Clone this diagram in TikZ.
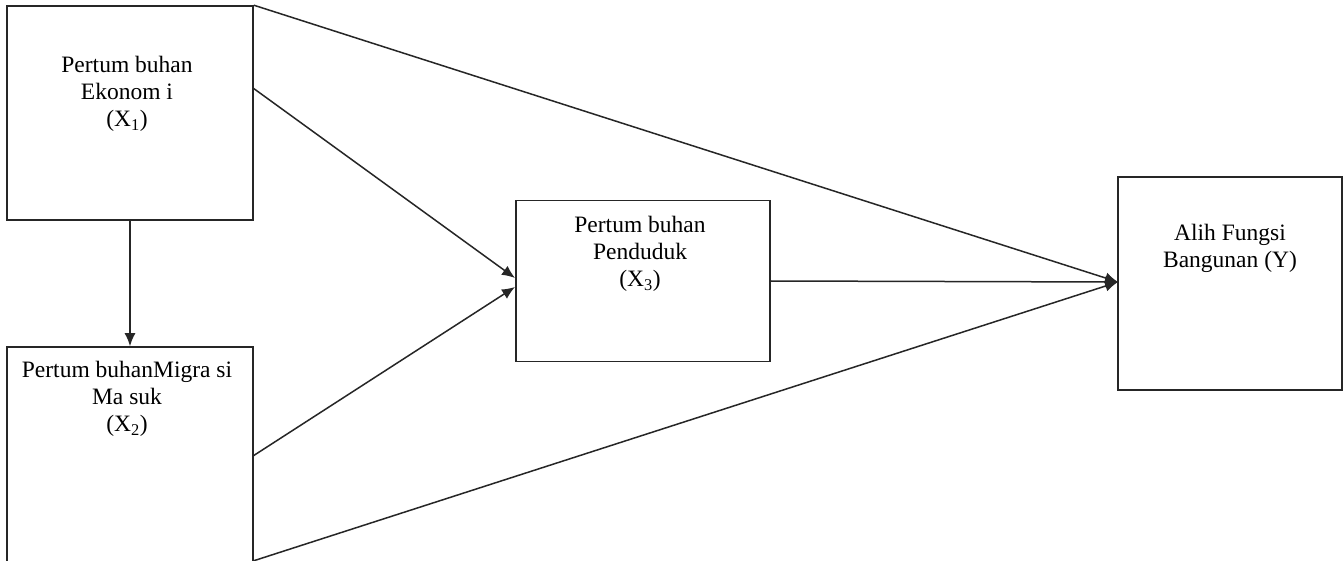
\documentclass[tikz,border=0pt]{standalone}
\usepackage{fontspec}
\setmainfont{Liberation Serif}
\usetikzlibrary{arrows.meta}
\begin{document}
\begin{tikzpicture}[x=1pt,y=-1pt,
  boxstyle/.style={draw=black!85,line width=1.6pt,rectangle,inner sep=0pt},
  lbl/.style={align=center,inner sep=0pt,anchor=north,font=\fontsize{23.5}{27}\selectfont},
  conn/.style={draw=black!85,line width=1.5pt},
  arr/.style={conn,-{Latex[length=13pt,width=11pt]}}]
\useasboundingbox[fill=white] (0,0) rectangle (1344,561);
% boxes
\node[boxstyle,minimum width=246pt,minimum height=214pt] (b1) at (130,113) {};
\node[boxstyle,minimum width=246pt,minimum height=222pt] (b2) at (130,458) {};
\node[boxstyle,minimum width=254pt,minimum height=161pt] (b3) at (643,281) {};
\node[boxstyle,minimum width=224pt,minimum height=213pt] (y) at (1230,283.5) {};
% texts
\node[lbl] (t1) at (127,56) {Pertum buhan\\Ekonom i\\(X\textsubscript{1})};
\node[lbl] (t2) at (127,361) {Pertum buhanMigra si\\Ma suk\\(X\textsubscript{2})};
\node[lbl] (t3) at (640,216) {Pertum buhan\\Penduduk\\(X\textsubscript{3})};
\node[lbl] (t4) at (1230,224) {Alih Fungsi\\Bangunan (Y)};
% anchor points
\coordinate (b1r) at (253,88);
\coordinate (b2r) at (253,456);
\coordinate (b2br) at (253,561);
\coordinate (b3a) at (515,278);
\coordinate (b3b) at (515,287);
\coordinate (yin) at (1118,282);
% connectors
\draw[arr] (b1.south) -- (b2.north);
\draw[arr] (b1.north east) -- (yin);
\draw[arr] (b1r) -- (b3a);
\draw[arr] (b2r) -- (b3b);
\draw[arr] (b2br) -- (yin);
\draw[arr] (b3.east) -- (yin);
\end{tikzpicture}
\end{document}
